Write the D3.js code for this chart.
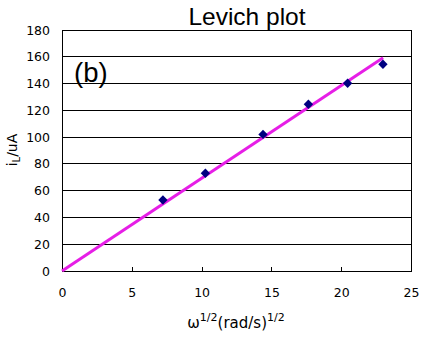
<!DOCTYPE html>
<html><head><meta charset="utf-8">
<script src="https://cdn.jsdelivr.net/npm/d3@7"></script>
<style>body{margin:0;background:#fff}svg{display:block}</style>
</head><body><svg id="c" width="440" height="344" font-family="Liberation Sans, Arial, sans-serif"></svg>
<script>
const xValues = [7.23, 10.27, 14.4, 17.65, 20.46, 22.99];
const yValues = [53, 73, 102, 124.5, 140.2, 154.4];
const fitX = [0, 23];
const fitY = [0, 159.2];
const xTicks = [0, 5, 10, 15, 20, 25];
const yTicks = [0, 20, 40, 60, 80, 100, 120, 140, 160, 180];

const svg = d3.select("#c");
const m = {l: 62, r: 411, t: 30, b: 271};
const x = d3.scaleLinear().domain([0, 25]).range([m.l, m.r]);
const y = d3.scaleLinear().domain([0, 180]).range([m.b, m.t]);
const tickFont = "DejaVu Sans, sans-serif";

// gridlines
svg.append("g").selectAll("line").data(yTicks.filter(d => d > 0)).join("line")
  .attr("x1", m.l).attr("x2", m.r).attr("y1", d => y(d)).attr("y2", d => y(d))
  .attr("stroke", "#000").attr("stroke-width", 1).attr("shape-rendering", "crispEdges");
// frame
svg.append("rect").attr("x", m.l).attr("y", m.t).attr("width", m.r - m.l).attr("height", m.b - m.t)
  .attr("fill", "none").attr("stroke", "#000").attr("stroke-width", 1).attr("shape-rendering", "crispEdges");

// axes
const xa = svg.append("g").attr("transform", `translate(0,${m.b})`)
  .call(d3.axisBottom(x).tickValues(xTicks).tickSize(-4).tickPadding(17).tickFormat(d3.format("d")));
xa.select(".domain").remove();
xa.selectAll("line").attr("shape-rendering", "crispEdges");
xa.selectAll("text").style("font-size", "12.5px").style("font-family", tickFont).attr("fill", "#000");

const ya = svg.append("g").attr("transform", `translate(${m.l},0)`)
  .call(d3.axisLeft(y).tickValues(yTicks).tickSize(0).tickPadding(12).tickFormat(d3.format("d")));
ya.select(".domain").remove();
ya.selectAll("text").style("font-size", "12.5px").style("font-family", tickFont).attr("fill", "#000");

// fit line
svg.append("path").datum(fitX.map((d, i) => [d, fitY[i]]))
  .attr("d", d3.line().x(d => x(d[0])).y(d => y(d[1])))
  .attr("stroke", "#e61ee6").attr("stroke-width", 3).attr("fill", "none");

// markers
svg.append("g").selectAll("path").data(xValues.map((d, i) => [d, yValues[i]])).join("path")
  .attr("d", d3.symbol(d3.symbolDiamond2, 56))
  .attr("transform", d => `translate(${x(d[0])},${y(d[1])})`)
  .attr("fill", "#000080");

// title
svg.append("text").attr("x", 247).attr("y", 25).attr("text-anchor", "middle")
  .style("font-size", "24.5px").text("Levich plot");
// (b)
svg.append("text").attr("x", 74).attr("y", 82).style("font-size", "27.5px").text("(b)");

// x label
const xl = svg.append("text").attr("x", 236).attr("y", 328).attr("text-anchor", "middle")
  .style("font-size", "15px").style("font-family", tickFont);
xl.append("tspan").text("ω");
xl.append("tspan").attr("dy", -7).style("font-size", "11px").text("1/2");
xl.append("tspan").attr("dy", 7).text("(rad/s)");
xl.append("tspan").attr("dy", -7).style("font-size", "11px").text("1/2");

// y label
const yl = svg.append("text").attr("transform", "translate(17,150) rotate(-90)").attr("text-anchor", "middle")
  .style("font-size", "14px").style("font-family", tickFont);
yl.append("tspan").text("i");
yl.append("tspan").attr("dy", 3).style("font-size", "10px").text("L");
yl.append("tspan").attr("dy", -3).text("/uA");
</script></body></html>
